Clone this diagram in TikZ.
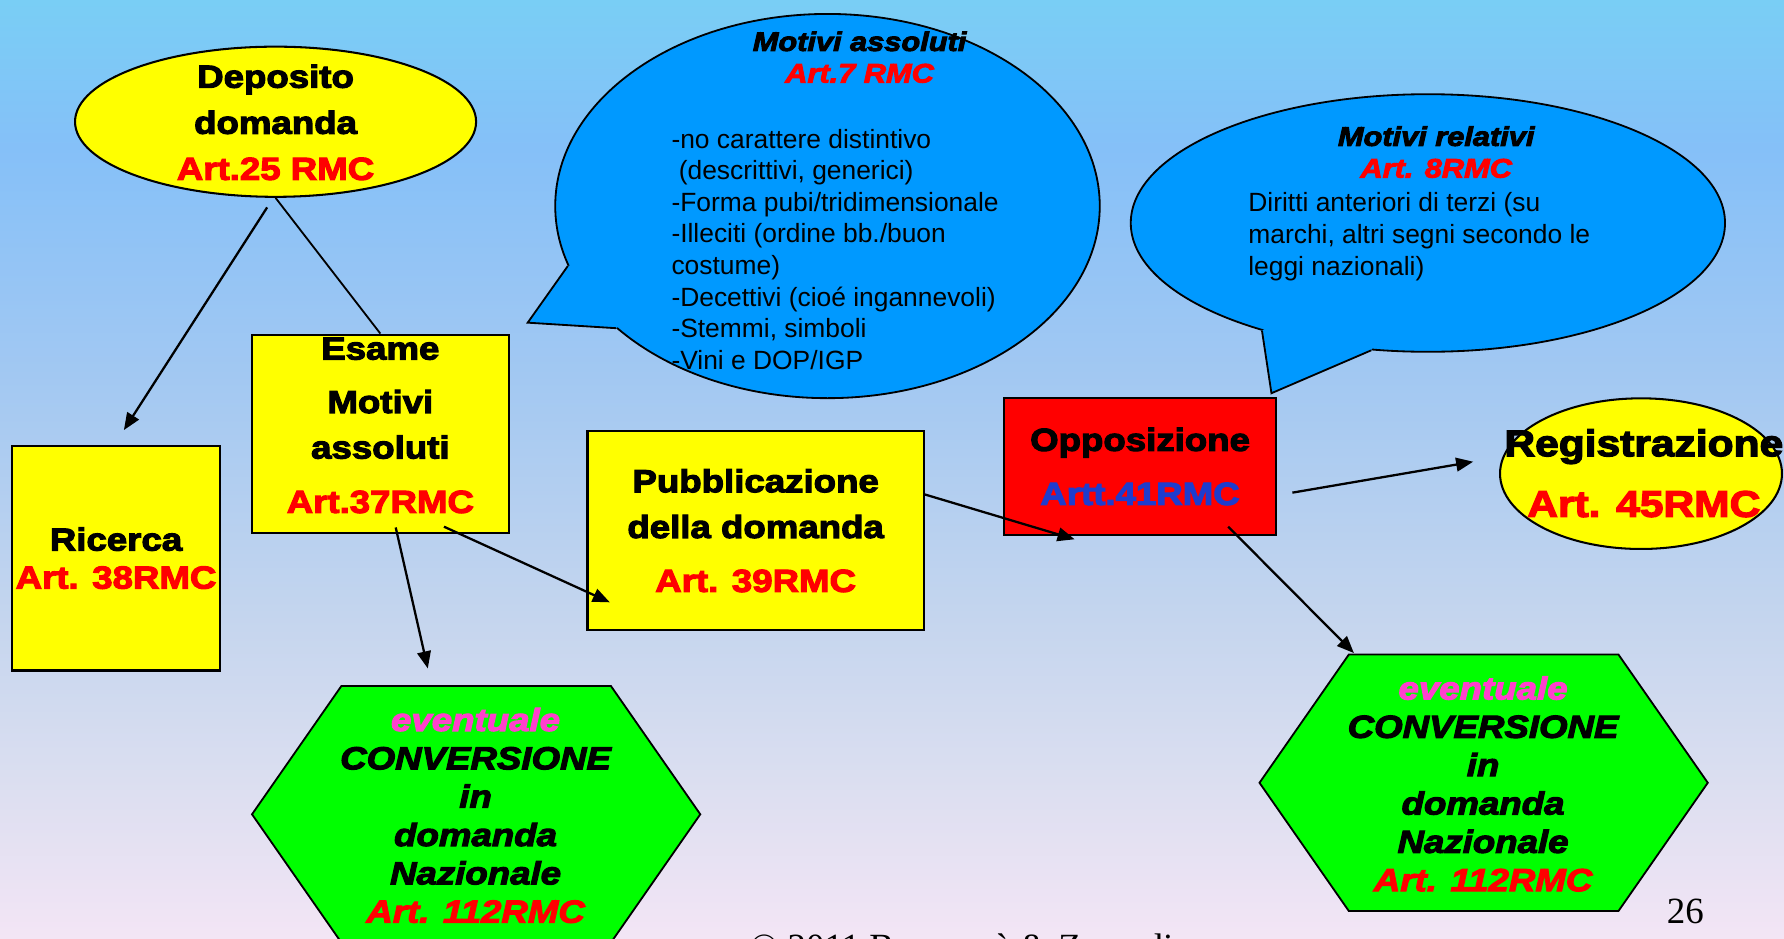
\documentclass[tikz,border=0pt]{standalone}
\usepackage{fontspec}
\setmainfont{Liberation Sans}
\newfontfamily\blk{Liberation Sans Bold}[FakeStretch=1.15,FakeBold=3.5]
\newfontfamily\blkit{Liberation Sans Bold Italic}[FakeStretch=1.15,FakeBold=3.5]
\newfontfamily\arl{Liberation Sans}
\newfontfamily\tms{Liberation Serif}
\usetikzlibrary{arrows.meta,shapes.geometric}
\definecolor{yel}{RGB}{255,255,0}
\definecolor{rd}{RGB}{255,0,0}
\definecolor{bub}{RGB}{0,153,255}
\definecolor{grn}{RGB}{0,255,0}
\definecolor{pnk}{RGB}{255,64,204}
\definecolor{blu}{RGB}{30,60,205}
\definecolor{bgA}{RGB}{121,206,245}
\definecolor{bgB}{RGB}{133,192,248}
\definecolor{bgC}{RGB}{162,200,242}
\definecolor{bgD}{RGB}{196,213,238}
\definecolor{bgE}{RGB}{218,222,240}
\definecolor{bgF}{RGB}{243,229,245}
\pgfdeclareverticalshading{bgshade}{100bp}{color(0bp)=(bgF); color(25bp)=(bgF); color(33.8bp)=(bgE); color(42.3bp)=(bgD); color(55bp)=(bgC); color(67.1bp)=(bgB); color(75bp)=(bgA); color(100bp)=(bgA)}
\tikzset{
  bx/.style={rectangle, draw=black, line width=1pt, fill=yel, inner sep=0pt},
  ell/.style={ellipse, draw=black, line width=0.9pt, fill=yel, inner sep=0pt},
  bubble/.style={ellipse, draw=black, line width=0.8pt, fill=bub, inner sep=0pt},
  bubline/.style={draw=black, line width=0.8pt, line join=miter},
  hexa/.style={draw=black, line width=0.8pt, fill=grn, line join=miter},
  arr/.style={draw=black, line width=1pt, -{Triangle[length=7.5pt,width=6pt]}},
  ln/.style={draw=black, line width=0.8pt},
  tx/.style 2 args={inner sep=0pt, align=center, font=\fontsize{#1pt}{#2pt}\selectfont\blk,
    execute at begin node=\strut, execute at end node=\strut},
  hx/.style 2 args={inner sep=0pt, align=center, font=\fontsize{#1pt}{#2pt}\selectfont\blkit,
    execute at begin node=\strut, execute at end node=\strut},
  bd/.style 2 args={inner sep=0pt, align=left, anchor=west, font=\fontsize{#1pt}{#2pt}\selectfont\arl,
    execute at begin node=\strut, execute at end node=\strut},
  tm/.style={inner sep=0pt, anchor=base west, font=\fontsize{16.25pt}{19pt}\selectfont\tms}
}
\begin{document}
\begin{tikzpicture}[x=0.5pt,y=-0.5pt]
\useasboundingbox (0,0) rectangle (1568,824.5);
\clip (0,0) rectangle (1568,824.5);
\shade[shading=bgshade] (0,0) rectangle (1568,824.5);

% speech bubble 1
\node[bubble, minimum width=239.3pt, minimum height=168.85pt] (b1) at (727.3,181.1) {};
\coordinate (t1) at (463.8,283.6);
\fill[bub] (b1.193.4) -- (t1) -- (b1.210.9) -- (b1.center) -- cycle;
\draw[bubline] (b1.193.4) -- (t1) -- (b1.210.9);
% speech bubble 2
\node[bubble, minimum width=261.15pt, minimum height=113.2pt] (b2) at (1255,196) {};
\coordinate (t2) at (1117.5,345.6);
\fill[bub] (b2.213.9) -- (t2) -- (b2.246.6) -- (b2.center) -- cycle;
\draw[bubline] (b2.213.9) -- (t2) -- (b2.246.6);

% shapes
\node[ell, minimum width=176.25pt, minimum height=66pt] (dep) at (242.2,107) {};
\node[bx, minimum width=91.65pt, minimum height=98.8pt] (ric) at (102,490.6) {};
\node[bx, minimum width=113pt, minimum height=87.1pt] (esa) at (334.3,381.3) {};
\node[bx, minimum width=147.75pt, minimum height=87.6pt] (pub) at (664.15,466.1) {};
\node[bx, fill=rd, minimum width=119.65pt, minimum height=60.05pt] (opp) at (1002.15,410.15) {};
\node[ell, minimum width=123.9pt, minimum height=66.2pt] (reg) at (1442.3,416.3) {};
\coordinate (hLc) at (418.5,715.7);
\coordinate (hRc) at (1304,688);
\draw[hexa] ([shift={(-197,0)}]hLc) -- ++(78.5,-112.7) -- ++(237,0) -- ++(78.5,112.7) -- ++(-78.5,112.7) -- ++(-237,0) -- cycle;
\draw[hexa] ([shift={(-197,0)}]hRc) -- ++(78.5,-112.7) -- ++(237,0) -- ++(78.5,112.7) -- ++(-78.5,112.7) -- ++(-237,0) -- cycle;

% texts
\node[hx={11.75}{13.9}] (b1T) at (755.5,54.3) {Motivi assoluti\\\textcolor{rd}{Art.7 RMC}};
\node[bd={11.6}{13.9}] (b1B) at (589.8,223.2) {-no carattere distintivo\\\ (descrittivi, generici)\\-Forma pubi/tridimensionale\\-Illeciti (ordine bb./buon\\costume)\\-Decettivi (cioé ingannevoli)\\-Stemmi, simboli\\-Vini e DOP/IGP};
\node[hx={11.75}{13.95}] (b2T) at (1262.3,137.8) {Motivi relativi\\\textcolor{rd}{Art. 8RMC}};
\node[bd={11.6}{14.05}] (b2B) at (1096.8,209.5) {Diritti anteriori di terzi (su\\marchi, altri segni secondo le\\leggi nazionali)};

\node[tx={14}{20.25}] (depT) at (242.2,113.5) {Deposito\\domanda\\\textcolor{rd}{Art.25 RMC}};
\node[tx={14}{16.7}] (ricT) at (102,495.5) {Ricerca\\\textcolor{rd}{Art. 38RMC}};
\node[tx={14}{20}] (esaT) at (334.3,379.75) {Esame\\[3.5pt]Motivi\\assoluti\\[3.9pt]\textcolor{rd}{Art.37RMC}};
\node[tx={14}{20.1}] (pubT) at (664.15,472.3) {Pubblicazione\\della domanda\\[3.6pt]\textcolor{rd}{Art. 39RMC}};
\node[tx={14}{23.75}] (oppT) at (1002,417) {Opposizione\\\textcolor{blu}{Artt.41RMC}};
\node[tx={16.25}{26.65}] (regT) at (1444.8,423.8) {Registrazione\\\textcolor{rd}{Art. 45RMC}};
\node[hx={14}{16.85}] (hLT) at (418,721.6) {\textcolor{pnk}{eventuale}\\CONVERSIONE\\in\\domanda\\Nazionale\\\textcolor{rd}{Art. 112RMC}};
\node[hx={14}{16.85}] (hRT) at (1303.5,693.9) {\textcolor{pnk}{eventuale}\\CONVERSIONE\\in\\domanda\\Nazionale\\\textcolor{rd}{Art. 112RMC}};

\node[tm] (pg) at (1464.7,811.5) {26};
\node[tm] (cpy) at (659,843) {© 2011 Buonamà \& Zanardi};

% connectors
\coordinate (a1s) at (234.8,182.3);
\coordinate (a1e) at (108.9,378);
\coordinate (a2s) at (347.8,463.6);
\coordinate (a2e) at (376,587.5);
\coordinate (a3s) at (390.2,462.9);
\coordinate (a3e) at (536,529.4);
\coordinate (a4s) at (812.6,434.5);
\coordinate (a4e) at (944.5,474);
\coordinate (a5s) at (1135.9,433);
\coordinate (a5e) at (1294.8,405.8);
\coordinate (a6s) at (1079.5,462.9);
\coordinate (a6e) at (1190,574);
\draw[ln] (dep.south) -- (esa.north);
\draw[arr] (a1s) -- (a1e);
\draw[arr] (a2s) -- (a2e);
\draw[arr] (a3s) -- (a3e);
\draw[arr] (a4s) -- (a4e);
\draw[arr] (a5s) -- (a5e);
\draw[arr] (a6s) -- (a6e);
\end{tikzpicture}
\end{document}
